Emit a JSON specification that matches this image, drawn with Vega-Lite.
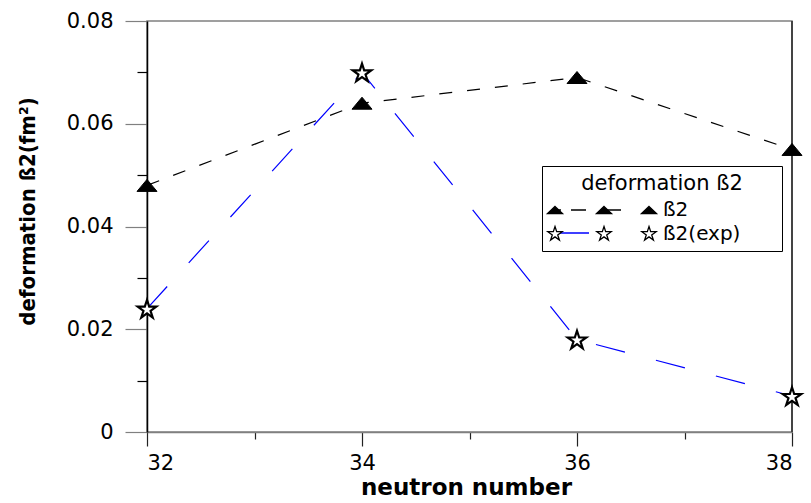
{
  "$schema": "https://vega.github.io/schema/vega-lite/v6.json",
  "width": 645,
  "height": 411,
  "autosize": {"type": "none"},
  "padding": {"left": 147, "top": 21, "right": 19, "bottom": 71},
  "background": "white",
  "config": {"view": {"stroke": "#808080", "strokeWidth": 1.5}, "font": "DejaVu Sans"},
  "data": {
    "values": [
      {"n": 32, "beta": 0.048, "series": "ß2", "source": "calculated"},
      {"n": 34, "beta": 0.064, "series": "ß2", "source": "calculated"},
      {"n": 36, "beta": 0.069, "series": "ß2", "source": "calculated"},
      {"n": 38, "beta": 0.055, "series": "ß2", "source": "calculated"},
      {"n": 32, "beta": 0.024, "series": "ß2(exp)", "source": "experiment"},
      {"n": 34, "beta": 0.070, "series": "ß2(exp)", "source": "experiment"},
      {"n": 36, "beta": 0.018, "series": "ß2(exp)", "source": "experiment"},
      {"n": 38, "beta": 0.007, "series": "ß2(exp)", "source": "experiment"}
    ]
  },
  "encoding": {
    "x": {
      "field": "n",
      "type": "quantitative",
      "scale": {"domain": [32, 38], "nice": false, "zero": false},
      "axis": {
        "values": [32, 33, 34, 35, 36, 37, 38],
        "labelExpr": "datum.value % 2 == 0 ? datum.label : ''",
        "tickSize": {"condition": {"test": "datum.value % 2 == 0", "value": 14}, "value": 7},
        "tickColor": "#222222",
        "tickWidth": 1.2,
        "domainColor": "#808080",
        "domainWidth": 1.5,
        "labelFont": "DejaVu Sans",
        "labelFontSize": 21,
        "labelColor": "black",
        "labelPadding": 6,
        "grid": false,
        "title": "neutron number",
        "titleFont": "DejaVu Sans",
        "titleFontSize": 23,
        "titleFontWeight": "bold",
        "titleColor": "black",
        "titleX": 319,
        "titleY": 62,
        "titleBaseline": "alphabetic",
        "titleAlign": "center"
      }
    },
    "y": {
      "field": "beta",
      "type": "quantitative",
      "scale": {"domain": [0, 0.08], "nice": false},
      "axis": {
        "values": [0, 0.01, 0.02, 0.03, 0.04, 0.05, 0.06, 0.07, 0.08],
        "labelExpr": "round(datum.value*100) % 2 == 0 ? (datum.value == 0 ? '0' : format(datum.value, '.2f')) : ''",
        "tickSize": {"condition": {"test": "round(datum.value*100) % 2 == 0", "value": 22}, "value": 10},
        "tickColor": {"condition": {"test": "round(datum.value*100) % 2 == 0", "value": "#808080"}, "value": "black"},
        "tickWidth": 1.2,
        "domainColor": "black",
        "domainWidth": 1.5,
        "labelFont": "DejaVu Sans",
        "labelFontSize": 21,
        "labelColor": "black",
        "labelPadding": 12,
        "grid": false,
        "title": "deformation ß2(fm²)",
        "titleFont": "DejaVu Sans Condensed, DejaVu Sans",
        "titleFontSize": 22,
        "titleFontWeight": "bold",
        "titleColor": "black",
        "titleX": -120,
        "titleY": 190,
        "titleAngle": -90,
        "titleAlign": "center",
        "titleBaseline": "middle"
      }
    }
  },
  "layer": [
    {
      "mark": {"type": "rule", "color": "#444444", "strokeWidth": 1.5},
      "encoding": {"x": {"datum": 38}, "y": null}
    },
    {
      "transform": [{"filter": "datum.series === 'ß2'"}],
      "mark": {"type": "line", "strokeWidth": 1.2, "strokeDash": [13, 15]},
      "encoding": {
        "color": {
          "field": "source",
          "type": "nominal",
          "scale": {"domain": ["calculated", "experiment"], "range": ["black", "#0000ff"]},
          "legend": {
            "orient": "top-right",
            "offset": 13,
            "title": "deformation ß2",
            "titleFont": "DejaVu Sans",
            "titleFontSize": 21,
            "titleFontWeight": "normal",
            "titleColor": "transparent",
            "titleAnchor": "middle",
            "titleAlign": "center",
            "titlePadding": 138,
            "labelFont": "DejaVu Sans",
            "labelFontSize": 20,
            "labelColor": "transparent",
            "labelOffset": 94,
            "symbolSize": 4,
            "symbolStrokeWidth": 1.3,
            "symbolFillColor": "transparent",
            "symbolDash": [1, 0],
            "symbolType": {"expr": "datum.value === 'calculated' ? 'M2,0L8,0M18,0L33,0M53,0L68,0M213,0' : 'M4,0L36,0M213,0'"},
            "padding": 7,
            "rowPadding": 3
          }
        }
      }
    },
    {
      "transform": [{"filter": "datum.series === 'ß2(exp)'"}],
      "mark": {"type": "line", "strokeWidth": 1.2, "strokeDash": [30, 32]},
      "encoding": {
        "color": {
          "field": "source",
          "type": "nominal",
          "scale": {"domain": ["calculated", "experiment"], "range": ["black", "#0000ff"]},
          "legend": {
            "orient": "top-right",
            "offset": 13,
            "title": "deformation ß2",
            "titleFont": "DejaVu Sans",
            "titleFontSize": 21,
            "titleFontWeight": "normal",
            "titleColor": "transparent",
            "titleAnchor": "middle",
            "titleAlign": "center",
            "titlePadding": 138,
            "labelFont": "DejaVu Sans",
            "labelFontSize": 20,
            "labelColor": "transparent",
            "labelOffset": 94,
            "symbolSize": 4,
            "symbolStrokeWidth": 1.3,
            "symbolFillColor": "transparent",
            "symbolDash": [1, 0],
            "symbolType": {"expr": "datum.value === 'calculated' ? 'M2,0L8,0M18,0L33,0M53,0L68,0M213,0' : 'M4,0L36,0M213,0'"},
            "padding": 7,
            "rowPadding": 3
          }
        }
      }
    },
    {
      "transform": [{"filter": "datum.series === 'ß2'"}],
      "mark": {"type": "point", "filled": true, "shape": "M0,-0.6L1,0.6L-1,0.6Z", "stroke": "black", "strokeWidth": 1, "size": 400, "opacity": 1},
      "encoding": {
        "fill": {
          "field": "series",
          "type": "nominal",
          "scale": {"domain": ["ß2", "ß2(exp)"], "range": ["black", "white"]},
          "legend": {
            "orient": "none",
            "legendX": 395,
            "legendY": 145,
            "title": "deformation ß2",
            "titleFont": "DejaVu Sans",
            "titleFontSize": 21,
            "titleFontWeight": "normal",
            "titleColor": "black",
            "titleAnchor": "middle",
            "titleAlign": "center",
            "titlePadding": 6,
            "labelFont": "DejaVu Sans",
            "labelFontSize": 20,
            "labelColor": "black",
            "labelOffset": 94,
            "symbolSize": 4,
            "symbolStrokeWidth": 1.3,
            "symbolStrokeColor": "black",
            "symbolOpacity": 1,
            "symbolType": {"expr": "datum.value === 'ß2' ? 'M-4,-3.5L3.5,3.5L-11.5,3.5ZM45,-3.5L52.5,3.5L37.5,3.5ZM90,-3.5L97.5,3.5L82.5,3.5ZM213,0' : 'M-4,-7.5L-2.32,-2.32L3.13,-2.32L-1.28,0.89L0.41,6.07L-4,2.87L-8.41,6.07L-6.72,0.89L-11.13,-2.32L-5.68,-2.32ZM45,-7.5L46.68,-2.32L52.13,-2.32L47.72,0.89L49.41,6.07L45,2.87L40.59,6.07L42.28,0.89L37.87,-2.32L43.32,-2.32ZM90,-7.5L91.68,-2.32L97.13,-2.32L92.72,0.89L94.41,6.07L90,2.87L85.59,6.07L87.28,0.89L82.87,-2.32L88.32,-2.32ZM213,0'"},
            "padding": 7,
            "rowPadding": 3,
            "strokeColor": "black"
          }
        }
      }
    },
    {
      "transform": [{"filter": "datum.series === 'ß2(exp)'"}],
      "mark": {"type": "point", "filled": true, "shape": "M0,-0.9L0.225,-0.209L0.951,-0.209L0.363,0.218L0.588,0.909L0,0.482L-0.588,0.909L-0.363,0.218L-0.951,-0.209L-0.225,-0.209Z", "stroke": "black", "strokeWidth": 2.2, "size": 380, "opacity": 1},
      "encoding": {
        "fill": {
          "field": "series",
          "type": "nominal",
          "scale": {"domain": ["ß2", "ß2(exp)"], "range": ["black", "white"]},
          "legend": {
            "orient": "none",
            "legendX": 395,
            "legendY": 145,
            "title": "deformation ß2",
            "titleFont": "DejaVu Sans",
            "titleFontSize": 21,
            "titleFontWeight": "normal",
            "titleColor": "black",
            "titleAnchor": "middle",
            "titleAlign": "center",
            "titlePadding": 6,
            "labelFont": "DejaVu Sans",
            "labelFontSize": 20,
            "labelColor": "black",
            "labelOffset": 94,
            "symbolSize": 4,
            "symbolStrokeWidth": 1.3,
            "symbolStrokeColor": "black",
            "symbolOpacity": 1,
            "symbolType": {"expr": "datum.value === 'ß2' ? 'M-4,-3.5L3.5,3.5L-11.5,3.5ZM45,-3.5L52.5,3.5L37.5,3.5ZM90,-3.5L97.5,3.5L82.5,3.5ZM213,0' : 'M-4,-7.5L-2.32,-2.32L3.13,-2.32L-1.28,0.89L0.41,6.07L-4,2.87L-8.41,6.07L-6.72,0.89L-11.13,-2.32L-5.68,-2.32ZM45,-7.5L46.68,-2.32L52.13,-2.32L47.72,0.89L49.41,6.07L45,2.87L40.59,6.07L42.28,0.89L37.87,-2.32L43.32,-2.32ZM90,-7.5L91.68,-2.32L97.13,-2.32L92.72,0.89L94.41,6.07L90,2.87L85.59,6.07L87.28,0.89L82.87,-2.32L88.32,-2.32ZM213,0'"},
            "padding": 7,
            "rowPadding": 3,
            "strokeColor": "black"
          }
        }
      }
    }
  ]
}
